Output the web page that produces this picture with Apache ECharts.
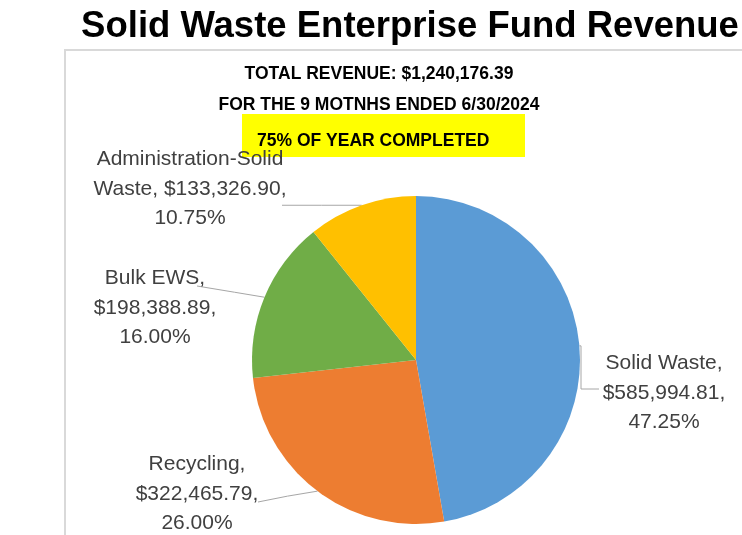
<!DOCTYPE html>
<html lang="en">
<head>
    <meta charset="UTF-8">
    <title>Solid Waste Enterprise Fund Revenue</title>
    <script src="https://cdn.jsdelivr.net/npm/echarts@6/dist/echarts.min.js"></script>
    <style>
        html, body { margin: 0; padding: 0; background: #fff; }
    </style>
</head>
<body>
    <div id="main" style="width: 742px; height: 535px;"></div>

    <script>
        // data
        var categories = ['Solid Waste', 'Recycling', 'Bulk EWS', 'Administration-Solid Waste'];
        var labelNames = ['Solid Waste', 'Recycling', 'Bulk EWS', 'Administration-Solid\nWaste'];
        var revenue = [585994.81, 322465.79, 198388.89, 133326.90];
        var colors = ['#5B9BD5', '#ED7D31', '#70AD47', '#FFC000'];

        var totalText = 'TOTAL REVENUE: $1,240,176.39';
        var periodText = 'FOR THE 9 MOTNHS ENDED 6/30/2024';
        var completedText = '75% OF YEAR COMPLETED';

        // where Excel put the labels (center of the text block)
        var labelPos = [[664, 393], [197, 494], [155, 308], [190, 189]];

        var font = '"Liberation Sans", Arial, sans-serif';

        function money(v) {
            return '$' + v.toLocaleString('en-US', { minimumFractionDigits: 2, maximumFractionDigits: 2 });
        }

        var myChart = echarts.init(document.getElementById('main'));

        var option = {
            backgroundColor: '#fff',
            animation: false,
            graphic: [
                {
                    type: 'rect',
                    shape: { x: 65, y: 50, width: 700, height: 500 },
                    style: { fill: 'none', stroke: '#D9D9D9', lineWidth: 2 }
                },
                {
                    type: 'rect',
                    shape: { x: 242, y: 114, width: 283, height: 43 },
                    style: { fill: '#FFFF00' }
                }
            ],
            title: [
                {
                    text: 'Solid Waste Enterprise Fund Revenue',
                    left: 405, top: 3, textAlign: 'center',
                    textStyle: { fontFamily: font, fontWeight: 'bold', fontSize: 36.5, color: '#000' }
                },
                {
                    text: totalText,
                    left: 374, top: 58, textAlign: 'center',
                    textStyle: { fontFamily: font, fontWeight: 'bold', fontSize: 17.5, lineHeight: 22, color: '#000' }
                },
                {
                    text: periodText,
                    left: 374, top: 89, textAlign: 'center',
                    textStyle: { fontFamily: font, fontWeight: 'bold', fontSize: 17.5, lineHeight: 22, color: '#000' }
                },
                {
                    text: completedText,
                    left: 252, top: 125,
                    textStyle: { fontFamily: font, fontWeight: 'bold', fontSize: 17.5, lineHeight: 22, color: '#000' }
                }
            ],
            series: [
                {
                    type: 'pie',
                    center: [416, 360],
                    radius: 164,
                    startAngle: 90,
                    clockwise: true,
                    color: colors,
                    data: categories.map(function (c, i) {
                        return { name: c, value: revenue[i] };
                    }),
                    label: {
                        show: true,
                        color: '#404040',
                        fontFamily: font,
                        fontSize: 21,
                        lineHeight: 29.5,
                        align: 'center',
                        overflow: 'none',
                        formatter: function (p) {
                            var n = labelNames[p.dataIndex];
                            var sep = n.indexOf('\n') >= 0 ? ' ' : '\n';
                            return n + ',' + sep + money(p.value) + ',\n' + p.percent.toFixed(2) + '%';
                        }
                    },
                    labelLine: {
                        show: true,
                        lineStyle: { color: '#A6A6A6', width: 1 }
                    },
                    labelLayout: function (params) {
                        var i = params.dataIndex;
                        var p = labelPos[i];
                        var start = params.labelLinePoints ? params.labelLinePoints[0] : [p[0], p[1]];
                        var pts;
                        if (i === 0) {
                            pts = [start, [581, start[1]], [581, 389], [599, 389]];
                        } else if (i === 1) {
                            pts = [start, [start[0] - 30, start[1] + 5], [258, 502]];
                        } else if (i === 2) {
                            pts = [start, [start[0] - 30, start[1] - 5], [197, 286]];
                        } else {
                            pts = [start, [start[0] - 40, start[1]], [282, start[1]]];
                        }
                        return {
                            x: p[0],
                            y: p[1],
                            align: 'center',
                            verticalAlign: 'middle',
                            labelLinePoints: pts
                        };
                    }
                }
            ]
        };

        myChart.setOption(option);
    </script>
</body>
</html>
